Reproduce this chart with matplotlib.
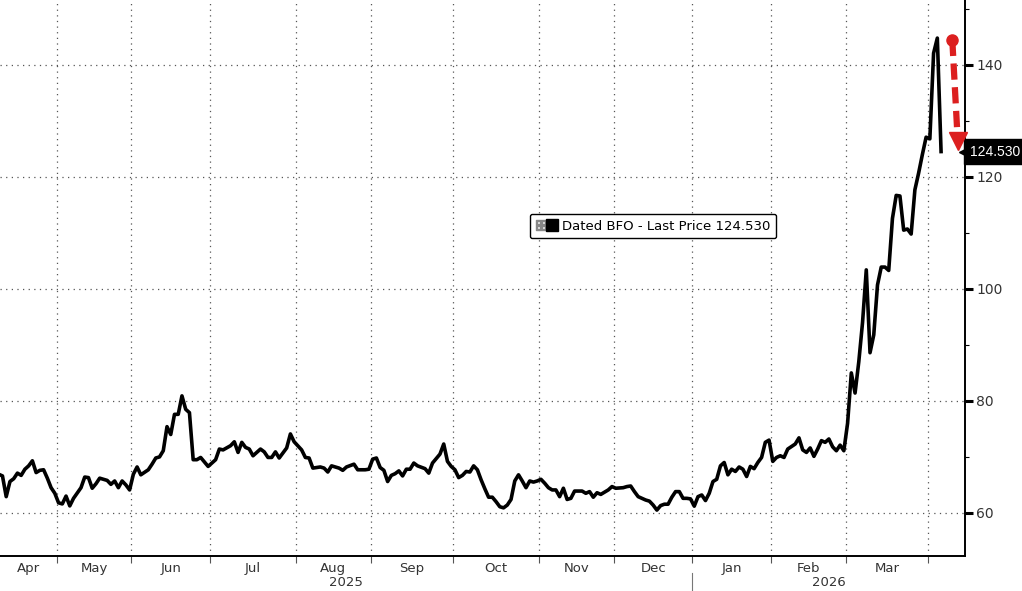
import numpy as np
import pandas as pd
import matplotlib
matplotlib.use('Agg')
import matplotlib.pyplot as plt
import matplotlib.transforms as mtransforms
from matplotlib.lines import Line2D
from matplotlib.legend_handler import HandlerTuple
from matplotlib.ticker import MultipleLocator, NullFormatter

# trading days counted from 1 May 2025 (UK business days)
tday = [-16, -15, -14, -13, -12, -11, -10, -9, -8, -7, -6, -5, -4, -3, -2, -1,
        0, 1, 2, 3, 4, 6, 7, 8, 9, 10, 11, 13, 14, 15, 16, 17, 18, 19,
        20, 21, 22, 24, 25, 26, 27, 28, 29, 30, 31, 32, 33, 34, 35, 36, 37, 38, 40,
        42, 43, 44, 46, 47, 48, 49, 50, 51, 52, 54, 55, 56, 57, 58, 59, 61, 62, 63,
        65, 66, 67, 68, 70, 71, 72, 73, 75, 76, 77, 79, 80, 82, 83,
        84, 85, 86, 87, 88, 89, 90, 91, 92, 93, 94, 95, 96, 98, 99, 100, 102, 103, 104, 105,
        106, 107, 108, 109, 110, 111, 112, 113, 114, 115, 116, 117, 118, 119, 120, 121, 122,
        123, 124, 125, 126, 127, 128,
        129, 130, 131, 132, 133, 134, 135, 136, 137, 138, 140, 141, 142, 143, 144, 145, 147, 148,
        149, 151, 152, 153, 154, 155, 157, 158, 159, 160, 161, 162, 163, 164, 165, 166, 167, 168, 169,
        170, 171, 172, 173, 174, 175, 176, 177, 178, 179, 180, 181, 182, 183, 184, 185, 186, 187, 188, 189, 190,
        191, 192, 193, 194, 195, 197, 198, 199, 200, 201, 202, 203, 204, 205, 206, 207, 208, 209, 210,
        211, 212, 213, 214, 215, 216, 217, 218, 219, 220, 221, 222, 223, 224, 225, 226, 227, 228, 229, 230,
        231, 232, 233, 234, 235, 236]
price = [66.9, 66.6, 62.9, 65.6, 66.1, 67.1, 66.7, 67.8, 68.4, 69.3, 67.2, 67.6, 67.7, 66.2, 64.5, 63.5,
         61.8, 61.6, 63.0, 61.25, 62.6, 64.5, 66.4, 66.3, 64.4, 65.2, 66.2, 65.8, 65.1, 65.7, 64.5, 65.7, 65.0, 64.1,
         66.9, 68.2, 66.8, 67.7, 68.7, 69.8, 70.0, 71.1, 75.4, 74.0, 77.6, 77.6, 80.9, 78.5, 77.9, 69.5, 69.5, 69.9, 68.3,
         69.5, 71.4, 71.25, 72.0, 72.7, 70.8, 72.6, 71.7, 71.4, 70.2, 71.4, 70.9, 69.9, 69.9, 70.9, 69.8, 71.6, 74.1, 72.7,
         71.25, 69.9, 69.8, 68.0, 68.2, 68.0, 67.3, 68.4, 68.0, 67.6, 68.2, 68.7, 67.7, 67.7, 67.8,
         69.6, 69.8, 68.1, 67.6, 65.6, 66.7, 67.0, 67.5, 66.6, 67.8, 67.8, 68.9, 68.4, 67.9, 67.1, 68.9, 70.5, 72.3, 69.2, 68.3,
         67.7, 66.3, 66.7, 67.4, 67.3, 68.4, 67.7, 65.9, 64.3, 62.8, 62.8, 62.0, 61.1, 60.9, 61.4, 62.4, 65.7,
         66.8, 65.7, 64.5, 65.7, 65.5, 65.7,
         66.0, 65.3, 64.5, 64.1, 64.1, 62.9, 64.4, 62.4, 62.6, 63.9, 63.9, 63.5, 63.8, 62.8, 63.6, 63.3, 64.1, 64.7,
         64.4, 64.5, 64.7, 64.8, 63.8, 62.9, 62.3, 62.1, 61.4, 60.5, 61.3, 61.55, 61.55, 62.8, 63.8, 63.8, 62.6, 62.6, 62.5,
         61.2, 62.9, 63.2, 62.2, 63.5, 65.6, 66.0, 68.4, 69.0, 66.8, 67.8, 67.4, 68.2, 67.8, 66.5, 68.3, 67.9, 69.0, 69.9, 72.6, 73.0,
         69.2, 69.9, 70.2, 69.9, 71.4, 72.3, 73.4, 71.25, 70.8, 71.6, 70.1, 71.4, 72.9, 72.6, 73.2, 71.8, 71.1, 72.1, 71.1,
         76.0, 85.0, 81.4, 87.0, 94.0, 103.4, 88.6, 91.8, 100.7, 103.9, 103.9, 103.3, 112.6, 116.7, 116.6, 110.5, 110.7, 109.8, 117.7, 120.7,
         124.0, 127.1, 126.8, 142.1, 144.8, 124.53]

month_names = ['Apr', 'May', 'Jun', 'Jul', 'Aug', 'Sep', 'Oct', 'Nov', 'Dec', 'Jan', 'Feb', 'Mar']
years = ['2025', '2026']
holidays = ['2025-04-18', '2025-04-21', '2025-05-05', '2025-05-26', '2025-08-25',
            '2025-12-25', '2025-12-26', '2026-01-01', '2026-04-03', '2026-04-06']
last_label = '124.530'
series_name = 'Dated BFO - Last Price 124.530'

# trading calendar -> month boundaries in trading-day units
cal = pd.bdate_range('2025-04-01', '2026-04-30', freq='C', holidays=holidays)
base = cal.searchsorted(pd.Timestamp('2025-05-01'))
month_starts = pd.date_range('2025-05-01', '2026-04-01', freq='MS')
bounds = [cal.searchsorted(m) - base - 0.5 for m in month_starts]

x_lo, x_hi = -15.66, 242.4
red = '#dc1f1f'
txt = '#333333'

fig = plt.figure(figsize=(10.22, 5.91), dpi=100)
ax = fig.add_axes([0, 35 / 591, 965 / 1022, 556 / 591])

ax.plot(tday, price, color='black', lw=2.6, zorder=3)

ax.set_xlim(x_lo, x_hi)
ax.set_ylim(52.3, 151.6)

# spines
for s in ['top', 'left']:
    ax.spines[s].set_visible(False)
ax.spines['right'].set_linewidth(1.4)
ax.spines['bottom'].set_linewidth(1.4)

# y axis on the right
ax.yaxis.tick_right()
ax.set_yticks([60, 80, 100, 120, 140])
ax.yaxis.set_minor_locator(MultipleLocator(10))
ax.tick_params(axis='y', which='major', length=6, width=2.2, pad=2,
               labelsize=10, labelcolor=txt, color='black')
ax.tick_params(axis='y', which='minor', length=3, width=0.8, color='black')

# x axis: ticks at month boundaries, labels centred in each month
edges = [x_lo] + bounds
mids = [(edges[i] + edges[i + 1]) / 2 for i in range(len(month_names))]
ax.set_xticks(bounds)
ax.xaxis.set_major_formatter(NullFormatter())
ax.set_xticks(mids, minor=True)
ax.set_xticklabels(month_names, minor=True)
ax.tick_params(axis='x', which='major', length=5, width=0.8, color='#555555')
ax.tick_params(axis='x', which='minor', length=0, pad=4, labelsize=9.5, labelcolor=txt)

ax.grid(which='major', color='#555555', lw=0.9, ls=(0, (1, 3.5)))

# year labels
jan = bounds[8]
trans = mtransforms.blended_transform_factory(ax.transData, ax.transAxes)
ax.text((x_lo + jan) / 2, -0.047, years[0], transform=trans, ha='center', va='center',
        fontsize=9.5, color=txt)
ax.text((jan + x_hi) / 2, -0.047, years[1], transform=trans, ha='center', va='center',
        fontsize=9.5, color=txt)
ax.plot([jan, jan], [-0.03, -0.07], transform=trans, clip_on=False, color='#777777', lw=0.8)

# legend
h_plus = Line2D([], [], marker=r'$\boxplus$', ls='', color='#888888', ms=7)
h_sq = Line2D([], [], marker='s', ls='', color='black', ms=9)
leg = ax.legend([(h_plus, h_sq)], [series_name],
                handler_map={tuple: HandlerTuple(ndivide=None, pad=0.1)},
                loc='center', bbox_to_anchor=(0.6767, 0.5935), frameon=True,
                fancybox=True, edgecolor='black', framealpha=1, fontsize=9.5,
                handlelength=1.6, handletextpad=0.4, borderpad=0.45)
leg.get_frame().set_linewidth(1.0)

# last price tag on the right axis
trans_r = mtransforms.blended_transform_factory(ax.transAxes, ax.transData)
ax.text(1.005, price[-1], last_label, transform=trans_r, ha='left', va='center',
        fontsize=10, family='Liberation Sans', color='white', clip_on=False,
        bbox=dict(boxstyle='square,pad=0.4', fc='black', ec='black'))
ax.plot([1.0], [price[-1]], transform=trans_r, marker='<', ms=9, color='black',
        clip_on=False, ls='')

# red dashed arrow from the peak down to the last price
x0 = tday[-1] + 3
x1 = tday[-1] + 4.5
y0 = max(price) - 0.3
y1 = price[-1] + 0.3
ax.plot([x0, x1 - 0.2], [y0, y1 + 3.6], color=red, lw=4.5, ls=(0, (2.6, 1.2)),
        dash_capstyle='butt', clip_on=False, zorder=4)
ax.plot([x0], [y0], marker='o', ms=8, color=red, clip_on=False, zorder=5)
ax.plot([x1], [y1 + 1.6], marker='v', ms=13, color=red, clip_on=False, zorder=5)

fig.savefig('out.png', dpi=100)
